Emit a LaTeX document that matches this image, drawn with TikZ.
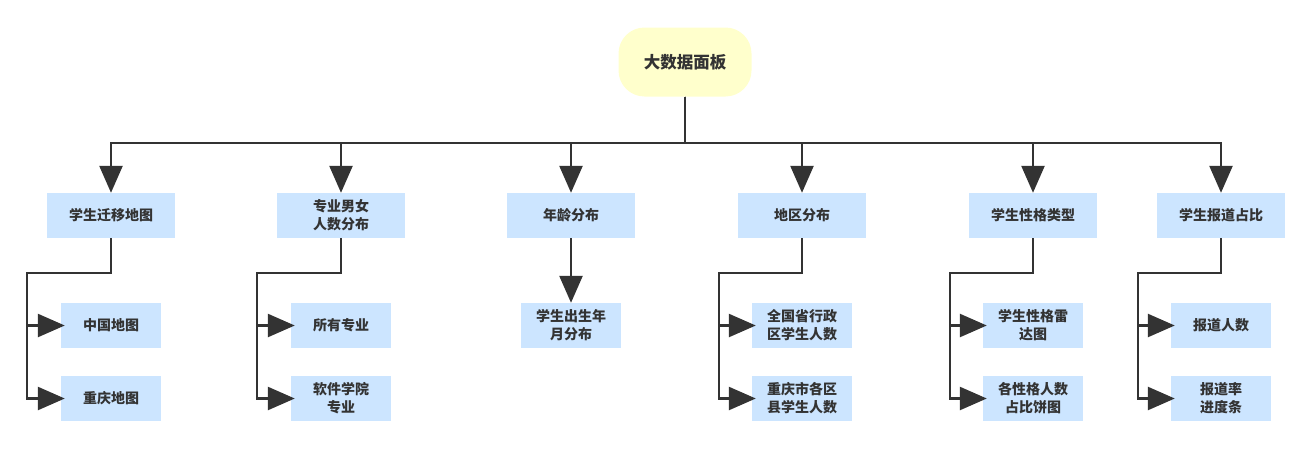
\documentclass[tikz,border=0pt]{standalone}
\usepackage{fontspec}
\setmainfont{Noto Sans CJK SC}
\usetikzlibrary{arrows.meta,positioning,calc}
\definecolor{ink}{HTML}{333333}
\definecolor{wire}{HTML}{333333}
\definecolor{paleblue}{HTML}{CCE5FF}
\definecolor{paleyellow}{HTML}{FFFFCC}

\tikzset{
  rootbox/.style={fill=paleyellow, rounded corners=26pt, minimum width=133pt,
    minimum height=69pt, text=ink, font=\fontsize{16.5}{20}\selectfont\bfseries},
  secbox/.style={fill=paleblue, minimum width=128pt, minimum height=45pt,
    align=center, text=ink, font=\fontsize{14}{18}\selectfont\bfseries},
  leafbox/.style={secbox, minimum width=100pt},
  link/.style={draw=wire, line width=2.5pt,
    -{Triangle[length=27pt,width=23pt]}}
}

\begin{document}
\begin{tikzpicture}[x=1pt,y=-1pt]
  \useasboundingbox (0,0) rectangle (1314,450);
  \node[rootbox] (root) at (685,62) {大数据面板};
  \coordinate (bus) at (685,143);
  % first level
  \foreach \n/\x/\t in {c1/111/学生迁移地图, c2/341/{专业男女\\人数分布},
      c3/571/年龄分布, c4/802/地区分布, c5/1033/学生性格类型, c6/1221/学生报道占比}
    \node[secbox] (\n) at (\x,215.5) {\t};
  \foreach \i in {1,...,6}
    \draw[link] (root.south) -- (bus) -| (c\i.north);
  % second level
  \node[leafbox] (g1a) at (111,325.5) {中国地图};
  \node[leafbox] (g1b) at (111,398.5) {重庆地图};
  \node[leafbox] (g2a) at (341,325.5) {所有专业};
  \node[leafbox] (g2b) at (341,398.5) {软件学院\\专业};
  \node[leafbox] (g3) at (571,325.5) {学生出生年\\月分布};
  \node[leafbox] (g4a) at (802,325.5) {全国省行政\\区学生人数};
  \node[leafbox] (g4b) at (802,398.5) {重庆市各区\\县学生人数};
  \node[leafbox] (g5a) at (1033,325.5) {学生性格雷\\达图};
  \node[leafbox] (g5b) at (1033,398.5) {各性格人数\\占比饼图};
  \node[leafbox] (g6a) at (1221,325.5) {报道人数};
  \node[leafbox] (g6b) at (1221,398.5) {报道率\\进度条};
  \coordinate (k1) at (27,273);
  \coordinate (k2) at (257,273);
  \coordinate (k4) at (719,273);
  \coordinate (k5) at (950,273);
  \coordinate (k6) at (1138,273);
  \foreach \i in {1,2,4,5,6}
    \foreach \j in {a,b}
      \draw[link] (c\i.south) |- (k\i) |- ([xshift=4pt]g\i\j.west);
  \draw[link] (c3) -- (g3);
\end{tikzpicture}
\end{document}
